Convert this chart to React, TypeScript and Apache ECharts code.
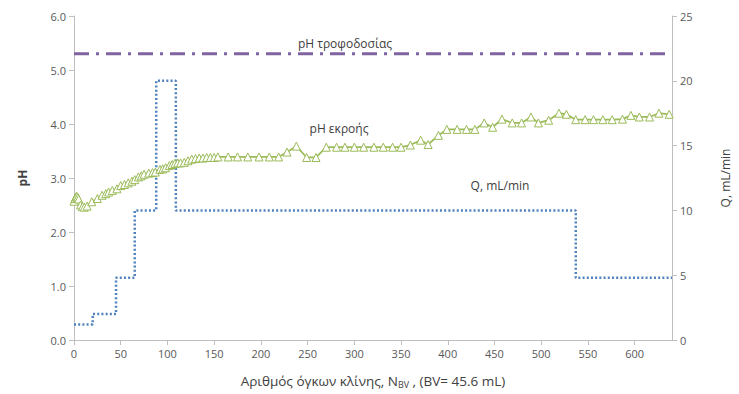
import React, { useEffect, useRef } from "react";
import * as echarts from "echarts";

// Bed volumes (N_BV) and effluent pH
const bedVolumes = [
  0, 1, 2, 3, 4, 5, 7, 9, 11, 14, 19, 25, 30, 34, 37, 41, 46, 50, 54, 58, 62, 65, 69, 72, 75, 80, 84, 87, 92, 95,
  98, 102, 105, 108, 111, 114, 118, 122, 126, 130, 134, 138, 142, 146, 150, 154, 165, 175, 186, 198, 209, 219, 228,
  238, 249, 259, 270, 281, 290, 300, 310, 321, 331, 341, 350, 360, 371, 379, 390, 399, 410, 420, 429, 439, 448, 458,
  469, 479, 489, 497, 508, 519, 527, 537, 547, 556, 566, 576, 587, 596, 605, 616, 626, 637,
];
const phEffluent = [
  2.57, 2.62, 2.65, 2.66, 2.64, 2.61, 2.5, 2.47, 2.46, 2.48, 2.56, 2.62, 2.68, 2.71, 2.74, 2.77, 2.8, 2.86, 2.88, 2.91,
  2.94, 2.97, 3.02, 3.04, 3.07, 3.09, 3.1, 3.11, 3.16, 3.17, 3.19, 3.23, 3.25, 3.27, 3.28, 3.28, 3.29, 3.32, 3.35,
  3.36, 3.37, 3.37, 3.38, 3.38, 3.38, 3.39, 3.39, 3.39, 3.39, 3.39, 3.39, 3.39, 3.48, 3.59, 3.38, 3.38, 3.57, 3.57,
  3.57, 3.57, 3.57, 3.57, 3.57, 3.57, 3.57, 3.61, 3.7, 3.62, 3.79, 3.9, 3.9, 3.9, 3.9, 4.02, 3.94, 4.09, 4.02, 4.02,
  4.13, 4.02, 4.07, 4.2, 4.18, 4.08, 4.08, 4.08, 4.08, 4.08, 4.09, 4.16, 4.13, 4.13, 4.2, 4.18,
];

// Flow rate Q (mL/min), stepwise
const flowX = [0, 20, 45, 65, 88, 109, 537, 640];
const flowQ = [1.2, 2, 4.8, 10, 20, 10, 4.8, 4.8];

// Feed pH
const feedX = [0, 640];
const feedPH = [5.3, 5.3];

// Labels
const xAxisTitle = "Αριθμός όγκων κλίνης, N{sub|BV} , (BV= 45.6 mL)";
const leftAxisTitle = "pH";
const rightAxisTitle = "Q, mL/min";
const feedLabel = "pH τροφοδοσίας";
const effluentLabel = "pH εκροής";
const flowLabel = "Q, mL/min";

const FONT = "Open Sans";
const LABEL_COLOR = "#595959";
const AXIS_COLOR = "#bfbfbf";

export default function App() {
  const ref = useRef<HTMLDivElement>(null);

  useEffect(() => {
    const chart = echarts.init(ref.current!, null, { renderer: "svg" });
    const pairs = (xs: number[], ys: number[]) => xs.map((x, i) => [x, ys[i]]);
    chart.setOption({
      animation: false,
      backgroundColor: "#ffffff",
      textStyle: { fontFamily: FONT },
      grid: { left: 74, right: 60, top: 16, bottom: 54 },
      xAxis: {
        type: "value",
        min: 0,
        max: 640,
        interval: 50,
        splitLine: { show: false },
        axisLine: { show: true, lineStyle: { color: AXIS_COLOR, width: 1 } },
        axisTick: { show: true, length: 5, lineStyle: { color: AXIS_COLOR } },
        axisLabel: { color: LABEL_COLOR, fontSize: 11, fontFamily: FONT, margin: 8, showMaxLabel: false },
        name: xAxisTitle,
        nameLocation: "middle",
        nameGap: 33,
        nameTextStyle: {
          color: "#404040",
          fontSize: 13.5,
          fontFamily: FONT,
          rich: {
            sub: { fontSize: 9, color: "#404040", fontFamily: FONT, padding: [7, 0, 0, 0] },
          },
        },
      },
      yAxis: [
        {
          type: "value",
          position: "left",
          min: 0,
          max: 6,
          interval: 1,
          splitLine: { show: false },
          axisLine: { show: true, lineStyle: { color: AXIS_COLOR, width: 1 } },
          axisTick: { show: true, length: 5, lineStyle: { color: AXIS_COLOR } },
          axisLabel: {
            color: LABEL_COLOR,
            fontSize: 11,
            fontFamily: FONT,
            margin: 8,
            formatter: (v: number) => v.toFixed(1),
          },
          name: leftAxisTitle,
          nameLocation: "middle",
          nameGap: 46,
          nameTextStyle: { color: "#404040", fontSize: 12, fontWeight: "bold", fontFamily: FONT },
        },
        {
          type: "value",
          position: "right",
          min: 0,
          max: 25,
          interval: 5,
          alignTicks: false,
          splitLine: { show: false },
          axisLine: { show: true, lineStyle: { color: AXIS_COLOR, width: 1 } },
          axisTick: { show: true, length: 5, lineStyle: { color: AXIS_COLOR } },
          axisLabel: { color: LABEL_COLOR, fontSize: 11, fontFamily: FONT, margin: 8 },
          name: rightAxisTitle,
          nameLocation: "middle",
          nameGap: 47,
          nameRotate: 90,
          nameTextStyle: { color: "#404040", fontSize: 12, fontFamily: FONT },
        },
      ],
      series: [
        {
          name: flowLabel,
          type: "line",
          yAxisIndex: 1,
          step: "end",
          data: pairs(flowX, flowQ),
          showSymbol: false,
          symbol: "none",
          lineStyle: { color: "#4f81bd", width: 2.5, type: [2, 2.2] },
          z: 2,
        },
        {
          name: feedLabel,
          type: "line",
          yAxisIndex: 0,
          data: pairs(feedX, feedPH),
          symbol: "none",
          lineStyle: { color: "#8064a2", width: 3, type: [15, 7, 3, 7] },
          z: 3,
        },
        {
          name: effluentLabel,
          type: "line",
          yAxisIndex: 0,
          data: pairs(bedVolumes, phEffluent),
          symbol: "triangle",
          symbolSize: 8,
          showAllSymbol: true,
          itemStyle: { color: "#ffffff", borderColor: "#9bbb59", borderWidth: 1 },
          lineStyle: { color: "#9bbb59", width: 1.75 },
          z: 4,
        },
      ],
      graphic: [
        {
          type: "text",
          x: 345,
          y: 43,
          style: {
            text: feedLabel,
            fill: "#404040",
            font: `12px "${FONT}"`,
            textAlign: "center",
            textVerticalAlign: "middle",
          },
        },
        {
          type: "text",
          x: 339,
          y: 128,
          style: {
            text: effluentLabel,
            fill: "#404040",
            font: `12px "${FONT}"`,
            textAlign: "center",
            textVerticalAlign: "middle",
          },
        },
        {
          type: "text",
          x: 500,
          y: 185,
          style: {
            text: flowLabel,
            fill: "#404040",
            font: `12px "${FONT}"`,
            textAlign: "center",
            textVerticalAlign: "middle",
          },
        },
      ],
    });
    return () => chart.dispose();
  }, []);

  return (
    <div
      ref={ref}
      style={{ position: "fixed", left: 0, top: 0, width: 739, height: 394, background: "#ffffff" }}
    />
  );
}
